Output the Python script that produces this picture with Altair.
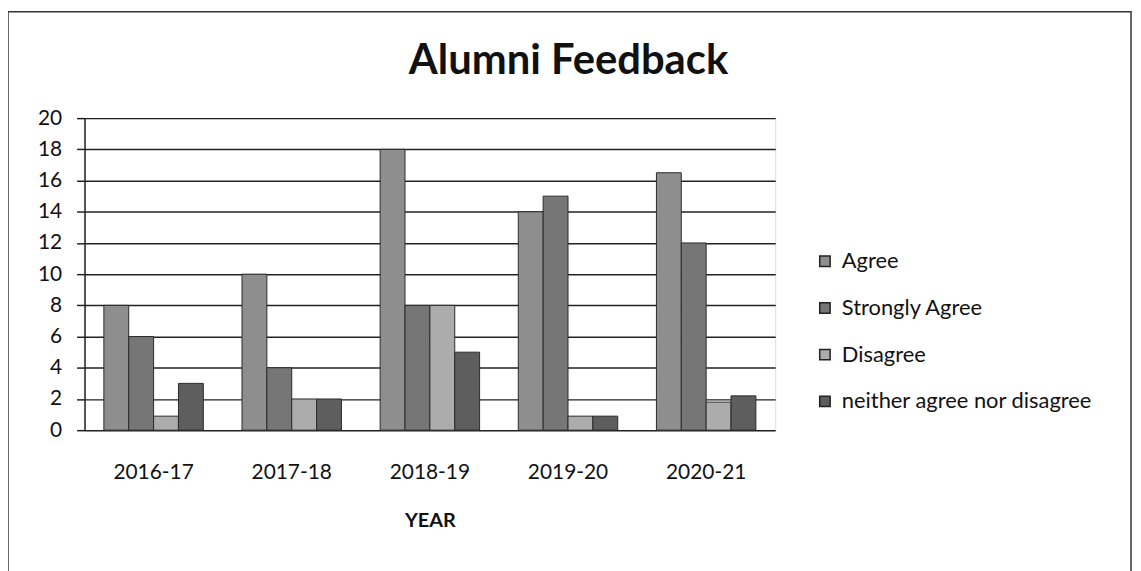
import altair as alt
import pandas as pd

years = ["2016-17", "2017-18", "2018-19", "2019-20", "2020-21"]
series = ["Agree", "Strongly Agree", "Disagree", "neither agree nor disagree"]
agree = [8, 10, 18, 14, 16.5]
strongly_agree = [6, 4, 8, 15, 12]
disagree = [0.9, 2, 8, 0.9, 1.8]
neither = [3, 2, 5, 0.9, 2.2]
colors = ["#8e8e8e", "#767676", "#acacac", "#5e5e5e"]
chart_title = "Alumni Feedback"

rows = []
for i, y in enumerate(years):
    for s, vals in zip(series, [agree, strongly_agree, disagree, neither]):
        rows.append({"Year": y, "Series": s, "Value": vals[i]})
df = pd.DataFrame(rows)

FONT = "Lato"
W, H = 695, 314
PAD_L, PAD_T, PAD_R, PAD_B = 77, 109, 360, 160

bars = alt.Chart(df).mark_bar(stroke="#2a2a2a", strokeWidth=1).encode(
    x=alt.X("Year:N", sort=years,
            scale=alt.Scale(paddingInner=0.28, paddingOuter=0.14),
            axis=alt.Axis(title="YEAR", labelAngle=0, labelFontSize=21, labelFont=FONT,
                          labelColor="#111", labelPadding=32, ticks=False, domain=False,
                          titleFontSize=20, titleFont=FONT, titleFontWeight="bold",
                          titleColor="#111", titlePadding=28)),
    xOffset=alt.XOffset("Series:N", sort=series),
    y=alt.Y("Value:Q", scale=alt.Scale(domain=[0, 20]),
            axis=alt.Axis(title=None, values=list(range(0, 21, 2)), labelFontSize=21,
                          labelFont=FONT, labelColor="#111", tickSize=8, tickColor="#222",
                          tickWidth=1.5, domainColor="#222", domainWidth=1.5,
                          gridColor="#222", gridWidth=1.5, labelPadding=15)),
    color=alt.Color("Series:N", sort=series,
                    scale=alt.Scale(domain=series, range=colors),
                    legend=alt.Legend(title=None, orient="none", legendX=734, legendY=133,
                                      symbolType="square", symbolSize=110,
                                      symbolStrokeColor="#222", symbolStrokeWidth=1.5,
                                      labelFontSize=22, labelFont=FONT, labelColor="#111",
                                      rowPadding=25, labelLimit=400, labelOffset=6)),
)

frame = alt.Chart(pd.DataFrame({"f": [0]})).mark_rect(
    fill=None, stroke="#333", strokeWidth=1.5
).encode(
    x=alt.value(-PAD_L), x2=alt.value(W + PAD_R - 2),
    y=alt.value(-PAD_T + 2), y2=alt.value(H + PAD_B + 20),
)

title = alt.Chart(pd.DataFrame({"t": [chart_title]})).mark_text(
    fontSize=42, font=FONT, fontWeight="bold", color="#111",
    align="center", baseline="alphabetic"
).encode(
    text="t:N", x=alt.value(487), y=alt.value(-44),
)

chart = alt.layer(frame, bars, title).properties(
    width=W, height=H,
    autosize=alt.AutoSizeParams(type="none"),
    padding={"left": PAD_L, "top": PAD_T, "right": PAD_R, "bottom": PAD_B},
).configure_view(stroke=None).configure(background="white")

chart.save("out.html", embed_options={"renderer": "svg", "actions": False})
